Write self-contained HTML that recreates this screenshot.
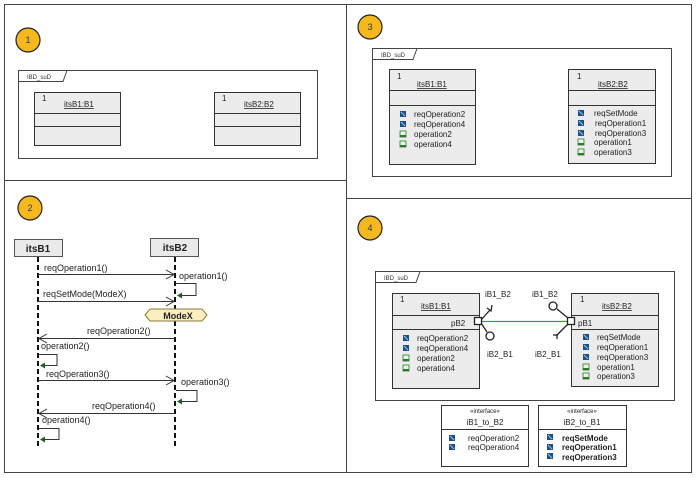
<!DOCTYPE html>
<html><head><meta charset="utf-8"><style>body{margin:0;background:#fff}svg{display:block;font-family:"Liberation Sans",Arial,sans-serif}</style></head><body>
<svg width="697" height="478" viewBox="0 0 697 478" xmlns="http://www.w3.org/2000/svg">
<defs>
<g id="ic1"><rect width="6" height="6" fill="#1d4f8c"/><path d="M1 1 L5 5" stroke="#9cd" stroke-width="1"/></g>
<g id="ic2"><rect width="6" height="6" fill="#e8f4e8" stroke="#2a7a2a" stroke-width="0.8"/><rect y="4" width="6" height="2" fill="#2a7a2a"/></g>
</defs>
<g fill="none" stroke="#444" stroke-width="1">
<rect x="4.5" y="4.5" width="342" height="176"/>
<rect x="4.5" y="180.5" width="342" height="292"/>
<rect x="346.5" y="4.5" width="345" height="194"/>
<rect x="346.5" y="198.5" width="345" height="274"/>
</g>
<g fill="#f5b91e" stroke="#222" stroke-width="1.2">
<circle cx="28" cy="40" r="12"/><circle cx="30" cy="208" r="12"/><circle cx="370" cy="27" r="12"/><circle cx="370" cy="228" r="12"/>
</g>
<g font-size="9" text-anchor="middle" fill="#333"><text x="28" y="43">1</text><text x="30" y="211">2</text><text x="370" y="30">3</text><text x="370" y="231">4</text></g>

<!-- Panel 1 -->
<g stroke="#444" fill="none"><rect x="18.5" y="70.5" width="299" height="88"/><path d="M18.5 81.5 H63 L67 70.5"/></g>
<text x="27" y="79" font-size="6" fill="#333">IBD_suD</text>
<g stroke="#333" fill="#ececec"><rect x="34.5" y="92.5" width="86" height="53"/><rect x="214.5" y="92.5" width="86" height="53"/></g>
<g stroke="#333"><path d="M34 113.5H120M34 126.5H121M214 113.5H300M214 126.5H300"/></g>
<g font-size="8" fill="#222"><text x="42" y="101">1</text><text x="222" y="101">1</text>
<text x="64" y="107" text-decoration="underline">itsB1:B1</text><text x="244" y="107" text-decoration="underline">itsB2:B2</text></g>

<!-- Panel 2 -->
<g stroke="#555" fill="#eaeaea"><rect x="14.5" y="239.5" width="48" height="17"/><rect x="150.5" y="238.5" width="48" height="18"/></g>
<g font-size="10" font-weight="bold" fill="#222" text-anchor="middle"><text x="38" y="252">itsB1</text><text x="175" y="251">itsB2</text></g>
<g stroke="#111" stroke-width="2" stroke-dasharray="5,3"><path d="M38 257V447M175 257V447"/></g>
<g stroke="#333" fill="none" stroke-width="1">
<path d="M38 274.5H174M166 270L174 274.5L166 279"/>
<path d="M38 301.5H174M166 297L174 301.5L166 306"/>
<path d="M175 338.5H39M47 334L39 338.5L47 343"/>
<path d="M38 380.5H174M166 376L174 380.5L166 385"/>
<path d="M175 413.5H39M47 409L39 413.5L47 418"/>
<path d="M176 283.5H196V295.5H178"/><path d="M39 354.5H57V365.5H41"/><path d="M176 390.5H197V401.5H178"/><path d="M39 428.5H59V439.5H41"/>
</g>
<g fill="#1f5c1f"><path d="M177 295.5l5-3v6z"/><path d="M40 365.5l5-3v6z"/><path d="M177 401.5l5-3v6z"/><path d="M40 439.5l5-3v6z"/></g>
<polygon points="145,315 150,309 202,309 207,315 202,321 150,321" fill="#fbefc0" stroke="#8a7a3a"/>
<text x="178" y="319" font-size="9" font-weight="bold" text-anchor="middle" fill="#222">ModeX</text>
<g font-size="9" fill="#222">
<text x="44" y="271">reqOperation1()</text><text x="179" y="279">operation1()</text>
<text x="43" y="297">reqSetMode(ModeX)</text>
<text x="87" y="334">reqOperation2()</text><text x="41" y="349">operation2()</text>
<text x="46" y="377">reqOperation3()</text><text x="181" y="385">operation3()</text>
<text x="92" y="409">reqOperation4()</text><text x="42" y="423">operation4()</text>
</g>

<!-- Panel 3 -->
<g stroke="#444" fill="none"><rect x="372.5" y="48.5" width="299" height="128"/><path d="M372.5 59.5H413L417 48.5"/></g>
<text x="381" y="57" font-size="6" fill="#333">IBD_suD</text>
<g stroke="#333" fill="#ececec"><rect x="389.5" y="69.5" width="86" height="95"/><rect x="568.5" y="69.5" width="87" height="94"/></g>
<g stroke="#333"><path d="M389 90.5H475M389 105.5H475M568 90.5H655M568 105.5H655"/></g>
<g font-size="8" fill="#222"><text x="397" y="79">1</text><text x="577" y="79">1</text>
<text x="417" y="87" text-decoration="underline">itsB1:B1</text><text x="598" y="87" text-decoration="underline">itsB2:B2</text>
<text x="414" y="117">reqOperation2</text><text x="414" y="127">reqOperation4</text><text x="414" y="137">operation2</text><text x="414" y="147">operation4</text>
<text x="594" y="116">reqSetMode</text><text x="595" y="126">reqOperation1</text><text x="595" y="136">reqOperation3</text><text x="594" y="145">operation1</text><text x="594" y="155">operation3</text></g>
<use href="#ic1" x="400" y="111"/><use href="#ic1" x="400" y="121"/><use href="#ic2" x="400" y="131"/><use href="#ic2" x="400" y="141"/>
<use href="#ic1" x="578" y="110"/><use href="#ic1" x="578" y="120"/><use href="#ic1" x="578" y="130"/><use href="#ic2" x="578" y="139"/><use href="#ic2" x="578" y="149"/>

<!-- Panel 4 -->
<g stroke="#444" fill="none"><rect x="375.5" y="271.5" width="299" height="129"/><path d="M375.5 282.5H416L420 271.5"/></g>
<text x="384" y="280" font-size="6" fill="#333">IBD_suD</text>
<g stroke="#333" fill="#ececec"><rect x="392.5" y="293.5" width="87" height="95"/><rect x="571.5" y="293.5" width="87" height="93"/></g>
<g stroke="#333"><path d="M392 315.5H479M392 329.5H479M571 315.5H658M571 329.5H658"/></g>
<path d="M481 321.5H568" stroke="#4a9a3a" stroke-width="1.2"/>
<g stroke="#222" fill="#fff" stroke-width="1.3">
<path d="M481 320L490 310M487 308 L491 311 L492 305"/>
<path d="M481 323L487 332"/><circle cx="490" cy="336" r="4"/>
<path d="M568 318L557 309"/><circle cx="553" cy="306" r="4"/>
<path d="M568 324L557 335M553 335H558M557 334V339"/>
<rect x="474.5" y="317.5" width="7" height="7"/><rect x="567.5" y="317.5" width="7" height="7"/>
</g>
<g font-size="8" fill="#222"><text x="400" y="302">1</text><text x="580" y="302">1</text>
<text x="421" y="309" text-decoration="underline">itsB1:B1</text><text x="602" y="309" text-decoration="underline">itsB2:B2</text>
<text x="451" y="326">pB2</text><text x="578" y="326">pB1</text>
<text x="485" y="297">iB1_B2</text><text x="532" y="297">iB1_B2</text><text x="487" y="357">iB2_B1</text><text x="535" y="357">iB2_B1</text>
<text x="417" y="341">reqOperation2</text><text x="417" y="351">reqOperation4</text><text x="417" y="361">operation2</text><text x="417" y="371">operation4</text>
<text x="597" y="340">reqSetMode</text><text x="597" y="350">reqOperation1</text><text x="597" y="360">reqOperation3</text><text x="597" y="370">operation1</text><text x="597" y="379">operation3</text></g>
<use href="#ic1" x="403" y="335"/><use href="#ic1" x="403" y="345"/><use href="#ic2" x="403" y="355"/><use href="#ic2" x="403" y="365"/>
<use href="#ic1" x="583" y="334"/><use href="#ic1" x="583" y="344"/><use href="#ic1" x="583" y="354"/><use href="#ic2" x="583" y="364"/><use href="#ic2" x="583" y="373"/>
<g stroke="#333" fill="#fff"><rect x="441.5" y="405.5" width="87" height="61"/><rect x="538.5" y="405.5" width="88" height="61"/></g>
<path d="M441 429.5H528M538 429.5H626" stroke="#333"/>
<g font-size="8" fill="#222" text-anchor="middle"><text x="485" y="413" font-size="6">«interface»</text><text x="582" y="413" font-size="6">«interface»</text>
<text x="485" y="425">iB1_to_B2</text><text x="582" y="425">iB2_to_B1</text></g>
<g font-size="8" fill="#222"><text x="468" y="441">reqOperation2</text><text x="468" y="450">reqOperation4</text></g>
<g font-size="8" fill="#222" font-weight="bold"><text x="562" y="441">reqSetMode</text><text x="562" y="450">reqOperation1</text><text x="562" y="460">reqOperation3</text></g>
<use href="#ic1" x="449" y="435"/><use href="#ic1" x="449" y="444"/>
<use href="#ic1" x="547" y="434"/><use href="#ic1" x="547" y="444"/><use href="#ic1" x="547" y="453"/>
</svg>
</body></html>
